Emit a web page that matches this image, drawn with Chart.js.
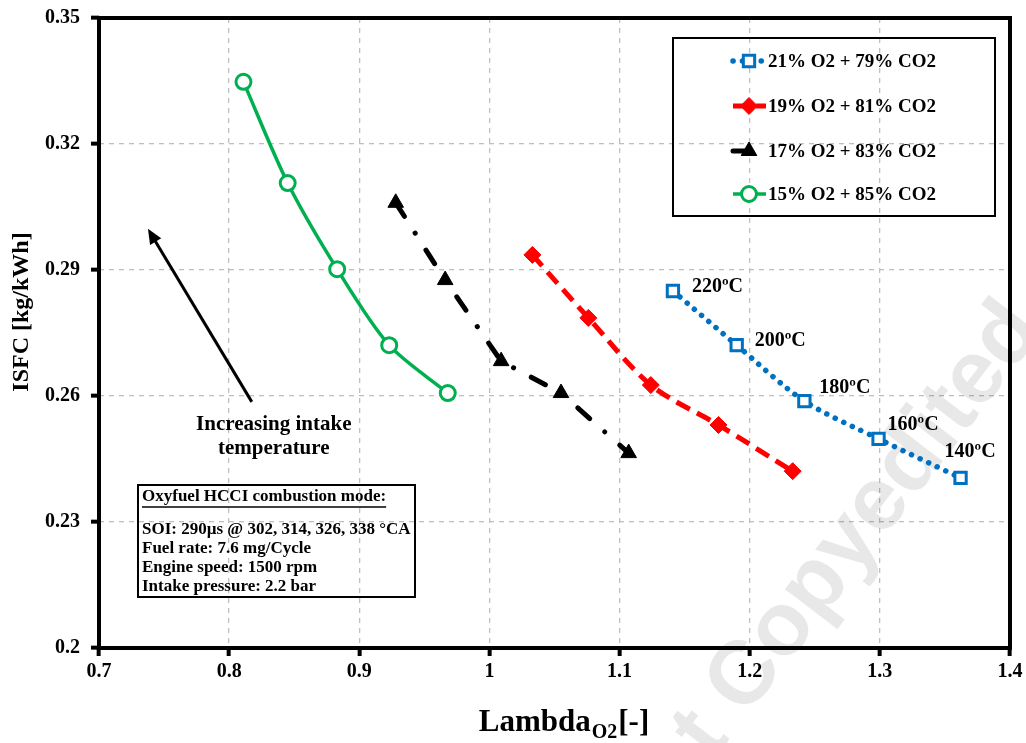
<!DOCTYPE html>
<html>
<head>
<meta charset="utf-8">
<script src="https://cdn.jsdelivr.net/npm/chart.js"></script>
<style>
  body { margin: 0; background: #fff; }
  canvas { display: block; }
</style>
</head>
<body>
<canvas id="chart" width="1026" height="743"></canvas>
<script>
// axis ticks
const xTicks = [0.7, 0.8, 0.9, 1.0, 1.1, 1.2, 1.3, 1.4];
const yTicks = [0.2, 0.23, 0.26, 0.29, 0.32, 0.35];

// series
const seriesNames = ["21% O2 + 79% CO2", "19% O2 + 81% CO2", "17% O2 + 83% CO2", "15% O2 + 85% CO2"];
const lambda21 = [1.141, 1.190, 1.242, 1.299, 1.362];
const isfc21 = [0.2850, 0.2721, 0.2588, 0.2498, 0.2405];
const lambda19 = [1.033, 1.076, 1.124, 1.176, 1.233];
const isfc19 = [0.2936, 0.2786, 0.2626, 0.2531, 0.2421];
const lambda17 = [0.928, 0.966, 1.009, 1.055, 1.107];
const isfc17 = [0.3060, 0.2876, 0.2683, 0.2607, 0.2464];
const lambda15 = [0.811, 0.845, 0.883, 0.923, 0.968];
const isfc15 = [0.3348, 0.3107, 0.2902, 0.2721, 0.2607];

// annotations
const tempLabels = ["220ºC", "200ºC", "180ºC", "160ºC", "140ºC"];
const infoTitle = "Oxyfuel HCCI combustion mode:";
const infoLines = [
  "SOI: 290µs @ 302, 314, 326, 338 °CA",
  "Fuel rate: 7.6 mg/Cycle",
  "Engine speed: 1500 rpm",
  "Intake pressure: 2.2 bar"
];
const arrowText = ["Increasing intake", "temperature"];

const serif = '"Liberation Serif", "Times New Roman", serif';
const tempOffsets = [[19, -4], [18, -4], [15, -13], [9, -14], [-16, -26]];

const pts = (xs, ys) => xs.map((x, i) => ({ x, y: ys[i] }));

const styles = [
  { color: "#0070c0", width: 5.5, dash: [0.1, 9.3], cap: "round", marker: "rect", r: 8, fill: "#fff", mw: 3 },
  { color: "#ff0000", width: 5, dash: [15, 8], cap: "butt", marker: "rectRot", r: 8.5, fill: "#ff0000", mw: 1 },
  { color: "#000000", width: 5, dash: [16, 20, 0.1, 20], cap: "round", marker: "triangle", r: 9, fill: "#000", mw: 1 },
  { color: "#00b050", width: 3.5, dash: [], cap: "butt", marker: "circle", r: 7.5, fill: "#fff", mw: 3 }
];
const seriesData = [pts(lambda21, isfc21), pts(lambda19, isfc19), pts(lambda17, isfc17), pts(lambda15, isfc15)];
const tensions = [0.3, 0.3, 0, 0.3];

function drawMarker(ctx, s, x, y) {
  const r = s.r;
  ctx.save();
  ctx.setLineDash([]);
  ctx.beginPath();
  if (s.marker === "rect") {
    const h = r * Math.SQRT1_2;
    ctx.rect(x - h, y - h, 2 * h, 2 * h);
  } else if (s.marker === "rectRot") {
    ctx.moveTo(x - r, y); ctx.lineTo(x, y - r); ctx.lineTo(x + r, y); ctx.lineTo(x, y + r); ctx.closePath();
  } else if (s.marker === "triangle") {
    ctx.moveTo(x, y - r);
    ctx.lineTo(x + r * 0.866, y + r / 2);
    ctx.lineTo(x - r * 0.866, y + r / 2);
    ctx.closePath();
  } else {
    ctx.arc(x, y, r, 0, Math.PI * 2);
  }
  ctx.fillStyle = s.fill;
  ctx.fill();
  ctx.lineWidth = s.mw;
  ctx.strokeStyle = s.color;
  ctx.stroke();
  ctx.restore();
}

const decor = {
  id: "decor",
  beforeDatasetsDraw(chart) {
    const { ctx } = chart;
    ctx.save();
    ctx.translate(822, 578);
    ctx.rotate(-52.5 * Math.PI / 180);
    ctx.font = 'bold 90px "Liberation Sans", Arial, sans-serif';
    ctx.fillStyle = "rgba(0,0,0,0.09)";
    ctx.textAlign = "center";
    ctx.textBaseline = "middle";
    ctx.fillText("Not Copyedited", 0, 0);
    ctx.restore();
  },
  afterDraw(chart) {
    const { ctx, chartArea: a, scales: { x, y } } = chart;
    ctx.save();

    // plot frame
    ctx.strokeStyle = "#000";
    ctx.lineWidth = 4;
    ctx.strokeRect(a.left, a.top, a.right - a.left, a.bottom - a.top);

    // temperature labels
    ctx.fillStyle = "#000";
    ctx.font = "bold 20px " + serif;
    ctx.textAlign = "left";
    ctx.textBaseline = "middle";
    tempLabels.forEach((t, i) => {
      ctx.fillText(t, x.getPixelForValue(lambda21[i]) + tempOffsets[i][0],
        y.getPixelForValue(isfc21[i]) + tempOffsets[i][1]);
    });

    // arrow
    const x0 = x.getPixelForValue(0.8174), y0 = y.getPixelForValue(0.2586);
    const x1 = x.getPixelForValue(0.7376), y1 = y.getPixelForValue(0.2998);
    const ang = Math.atan2(y1 - y0, x1 - x0);
    ctx.strokeStyle = "#000";
    ctx.lineWidth = 3;
    ctx.beginPath();
    ctx.moveTo(x0, y0);
    ctx.lineTo(x1 - 10 * Math.cos(ang), y1 - 10 * Math.sin(ang));
    ctx.stroke();
    ctx.beginPath();
    ctx.moveTo(x1, y1);
    ctx.lineTo(x1 - 15 * Math.cos(ang) + 6.5 * Math.sin(ang), y1 - 15 * Math.sin(ang) - 6.5 * Math.cos(ang));
    ctx.lineTo(x1 - 15 * Math.cos(ang) - 6.5 * Math.sin(ang), y1 - 15 * Math.sin(ang) + 6.5 * Math.cos(ang));
    ctx.closePath();
    ctx.fillStyle = "#000";
    ctx.fill();
    ctx.font = "bold 21px " + serif;
    ctx.textAlign = "center";
    ctx.fillText(arrowText[0], x.getPixelForValue(0.8343), y.getPixelForValue(0.2533));
    ctx.fillText(arrowText[1], x.getPixelForValue(0.8343), y.getPixelForValue(0.2476));

    // info box
    ctx.lineWidth = 2;
    ctx.strokeRect(138, 485, 277, 112);
    ctx.textAlign = "left";
    ctx.font = "bold 17px " + serif;
    ctx.fillText(infoTitle, 142, 497);
    const tw = ctx.measureText(infoTitle).width;
    ctx.lineWidth = 1.3;
    ctx.beginPath();
    ctx.moveTo(142, 507);
    ctx.lineTo(142 + tw, 507);
    ctx.stroke();
    [530, 549, 568, 587].forEach((yy, i) => ctx.fillText(infoLines[i], 142, yy));

    // legend
    ctx.lineWidth = 2;
    ctx.strokeStyle = "#000";
    ctx.strokeRect(673, 38, 322, 178);
    [61, 106, 151, 194].forEach((ly, i) => {
      const s = styles[i];
      ctx.save();
      ctx.strokeStyle = s.color;
      ctx.lineWidth = s.width;
      ctx.lineCap = s.cap;
      ctx.setLineDash(s.dash);
      ctx.beginPath();
      ctx.moveTo(733, ly);
      ctx.lineTo(766, ly);
      ctx.stroke();
      ctx.restore();
      drawMarker(ctx, s, 749, ly);
      ctx.fillStyle = "#000";
      ctx.font = "bold 19px " + serif;
      ctx.textAlign = "left";
      ctx.textBaseline = "middle";
      ctx.fillText(seriesNames[i], 768, ly + 1);
    });

    // axis titles
    ctx.save();
    ctx.translate(22, 312);
    ctx.rotate(-Math.PI / 2);
    ctx.font = "bold 24px " + serif;
    ctx.textAlign = "center";
    ctx.textBaseline = "middle";
    ctx.fillText("ISFC [kg/kWh]", 0, 0);
    ctx.restore();

    ctx.textBaseline = "alphabetic";
    ctx.textAlign = "left";
    const big = "bold 31px " + serif, small = "bold 20px " + serif;
    ctx.font = big;
    const w1 = ctx.measureText("Lambda").width;
    const w3 = ctx.measureText("[-]").width;
    ctx.font = small;
    const w2 = ctx.measureText("O2").width + 2;
    let tx = 564 - (w1 + w2 + w3) / 2;
    ctx.font = big;
    ctx.fillText("Lambda", tx, 731);
    ctx.font = small;
    ctx.fillText("O2", tx + w1 + 1, 738);
    ctx.font = big;
    ctx.fillText("[-]", tx + w1 + w2, 731);

    ctx.restore();
  }
};

const tickFont = { family: serif, size: 20, weight: "bold" };
const fmt = v => String(Number(v.toFixed(2)));

new Chart(document.getElementById("chart"), {
  type: "line",
  data: {
    datasets: seriesData.map((d, i) => ({
      label: seriesNames[i],
      data: d,
      borderColor: styles[i].color,
      borderWidth: styles[i].width,
      borderDash: styles[i].dash,
      borderCapStyle: styles[i].cap,
      tension: tensions[i],
      fill: false,
      pointStyle: styles[i].marker,
      pointRadius: styles[i].r,
      pointBorderWidth: styles[i].mw,
      pointBackgroundColor: styles[i].fill,
      pointBorderColor: styles[i].color
    }))
  },
  options: {
    responsive: false,
    animation: false,
    layout: { padding: { top: 18, right: 16, left: 0, bottom: 0 } },
    plugins: { legend: { display: false }, tooltip: { enabled: false } },
    scales: {
      x: {
        type: "linear",
        min: 0.7,
        max: 1.4,
        afterBuildTicks: s => { s.ticks = xTicks.map(v => ({ value: v })); },
        afterFit: s => { s.height = 95; s.paddingLeft = 0; s.paddingRight = 0; },
        ticks: { color: "#000", font: tickFont, padding: 4, maxRotation: 0, callback: fmt },
        grid: { color: "#bfbfbf", lineWidth: 1.3, tickColor: "#000", tickLength: 8, tickWidth: 4, tickBorderDash: [] },
        border: { display: false, dash: [5, 5] }
      },
      y: {
        type: "linear",
        min: 0.2,
        max: 0.35,
        afterBuildTicks: s => { s.ticks = yTicks.map(v => ({ value: v })); },
        afterFit: s => { s.width = 99; s.paddingTop = 0; s.paddingBottom = 0; },
        ticks: { color: "#000", font: tickFont, padding: 11, callback: fmt },
        grid: { color: "#bfbfbf", lineWidth: 1.3, tickColor: "#000", tickLength: 8, tickWidth: 4, tickBorderDash: [] },
        border: { display: false, dash: [5, 5] }
      }
    }
  },
  plugins: [decor]
});
</script>
</body>
</html>
